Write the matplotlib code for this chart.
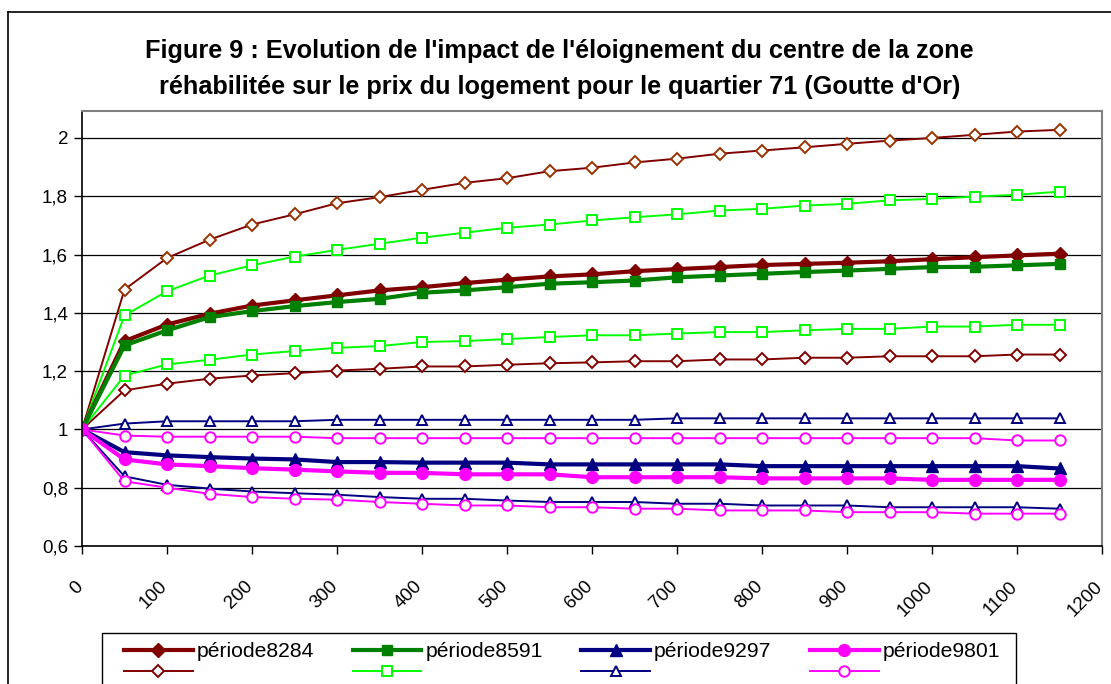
import matplotlib
matplotlib.use("Agg")
import matplotlib.pyplot as plt
from matplotlib.lines import Line2D
from matplotlib.patches import Rectangle
from matplotlib.ticker import FuncFormatter
from matplotlib.transforms import ScaledTranslation

plt.rcParams['font.family'] = ['Liberation Sans', 'DejaVu Sans']

# Distance from the centre of the rehabilitated zone (m)
distance = [0, 50, 100, 150, 200, 250, 300, 350, 400, 450, 500, 550,
            600, 650, 700, 750, 800, 850, 900, 950, 1000, 1050, 1100, 1150]

# Central estimates per period
p8284 = [1.0, 1.303, 1.36, 1.397, 1.425, 1.443, 1.46, 1.477, 1.488, 1.502, 1.514, 1.525,
         1.532, 1.543, 1.55, 1.557, 1.564, 1.568, 1.572, 1.577, 1.584, 1.591, 1.597, 1.603]
p8591 = [1.0, 1.288, 1.34, 1.385, 1.406, 1.423, 1.437, 1.448, 1.469, 1.477, 1.488, 1.5,
         1.505, 1.511, 1.522, 1.528, 1.534, 1.54, 1.545, 1.551, 1.557, 1.558, 1.563, 1.568]
p9297 = [1.0, 0.922, 0.911, 0.905, 0.9, 0.897, 0.888, 0.888, 0.886, 0.886, 0.886, 0.88,
         0.88, 0.88, 0.88, 0.88, 0.874, 0.874, 0.874, 0.874, 0.874, 0.874, 0.874, 0.866]
p9801 = [1.0, 0.897, 0.88, 0.874, 0.867, 0.862, 0.856, 0.851, 0.851, 0.846, 0.846, 0.846,
         0.836, 0.836, 0.836, 0.836, 0.832, 0.832, 0.832, 0.832, 0.827, 0.827, 0.827, 0.827]

# Lower / upper bounds per period
lo8284 = [1.0, 1.134, 1.157, 1.174, 1.185, 1.193, 1.202, 1.208, 1.216, 1.216, 1.222, 1.227,
          1.23, 1.234, 1.234, 1.24, 1.24, 1.246, 1.246, 1.251, 1.251, 1.251, 1.257, 1.257]
hi8284 = [1.0, 1.48, 1.588, 1.651, 1.703, 1.738, 1.776, 1.797, 1.822, 1.846, 1.862, 1.886,
          1.898, 1.916, 1.929, 1.946, 1.957, 1.968, 1.98, 1.991, 2.0, 2.011, 2.022, 2.028]
lo8591 = [1.0, 1.185, 1.223, 1.239, 1.257, 1.269, 1.28, 1.286, 1.3, 1.303, 1.31, 1.317,
          1.323, 1.323, 1.329, 1.334, 1.334, 1.34, 1.345, 1.345, 1.353, 1.353, 1.359, 1.359]
hi8591 = [1.0, 1.391, 1.474, 1.528, 1.563, 1.593, 1.616, 1.637, 1.658, 1.675, 1.692, 1.703,
          1.717, 1.728, 1.738, 1.751, 1.757, 1.768, 1.774, 1.786, 1.791, 1.799, 1.805, 1.816]
hi9297 = [1.0, 1.02, 1.028, 1.028, 1.028, 1.028, 1.033, 1.033, 1.033, 1.033, 1.033, 1.033,
          1.033, 1.033, 1.038, 1.038, 1.038, 1.038, 1.038, 1.038, 1.038, 1.038, 1.038, 1.038]
lo9297 = [1.0, 0.839, 0.81, 0.797, 0.787, 0.781, 0.776, 0.768, 0.762, 0.762, 0.756, 0.751,
          0.751, 0.751, 0.745, 0.745, 0.739, 0.739, 0.739, 0.733, 0.733, 0.733, 0.733, 0.728]
hi9801 = [1.0, 0.979, 0.975, 0.975, 0.975, 0.975, 0.97, 0.97, 0.97, 0.97, 0.97, 0.97,
          0.97, 0.97, 0.97, 0.97, 0.97, 0.97, 0.97, 0.97, 0.97, 0.97, 0.962, 0.962]
lo9801 = [1.0, 0.822, 0.8, 0.779, 0.768, 0.762, 0.759, 0.751, 0.745, 0.739, 0.739, 0.733,
          0.733, 0.728, 0.728, 0.722, 0.722, 0.722, 0.716, 0.716, 0.716, 0.711, 0.711, 0.711]

labels = ['période8284', 'période8591', 'période9297', 'période9801']
x_ticks = list(range(0, 1201, 100))
y_ticks = [0.6, 0.8, 1.0, 1.2, 1.4, 1.6, 1.8, 2.0]

DARKRED = '#800000'
BROWN = '#993300'
GREEN = '#008000'
LIME = '#00FF00'
NAVY = '#000080'
MAGENTA = '#FF00FF'

W, H = 1111, 684
fig = plt.figure(figsize=(W / 100, H / 100), dpi=100)
ax = fig.add_axes([82 / W, 1 - 546 / H, (1102 - 82) / W, (546 - 111) / H])

thin = dict(lw=1.4, ms=7.5, markeredgewidth=1.4, markerfacecolor='white')
thick = dict(lw=3.0, ms=7.5)

h = {}
# thin bound curves
h['lo8284'], = ax.plot(distance, lo8284, color=DARKRED, marker='D', markeredgecolor=DARKRED,
                       **{**thin, 'ms': 6.5})
h['hi8284'], = ax.plot(distance, hi8284, color=DARKRED, marker='D', markeredgecolor=BROWN,
                       **{**thin, 'ms': 6.5})
h['lo8591'], = ax.plot(distance, lo8591, color=LIME, marker='s', markeredgecolor=LIME, **thin)
h['hi8591'], = ax.plot(distance, hi8591, color=LIME, marker='s', markeredgecolor=LIME, **thin)
h['hi9297'], = ax.plot(distance, hi9297, color=NAVY, marker='^', markeredgecolor=NAVY, **thin)
h['lo9297'], = ax.plot(distance, lo9297, color=NAVY, marker='^', markeredgecolor=NAVY, **thin)
h['hi9801'], = ax.plot(distance, hi9801, color=MAGENTA, marker='o', markeredgecolor=MAGENTA, **thin)
h['lo9801'], = ax.plot(distance, lo9801, color=MAGENTA, marker='o', markeredgecolor=MAGENTA, **thin)

# central estimates
h['p8284'], = ax.plot(distance, p8284, color=DARKRED, marker='D', **{**thick, 'ms': 7})
h['p8591'], = ax.plot(distance, p8591, color=GREEN, marker='s', **thick)
h['p9297'], = ax.plot(distance, p9297, color=NAVY, marker='^', **{**thick, 'ms': 8.5})
h['p9801'], = ax.plot(distance, p9801, color=MAGENTA, marker='o', **{**thick, 'ms': 8.5})

ax.set_xlim(0, 1200)
ax.set_ylim(0.6, 2.0926)
ax.set_xticks(x_ticks)
ax.set_yticks(y_ticks)
ax.yaxis.set_major_formatter(FuncFormatter(lambda v, p: f"{v:g}".replace('.', ',')))
ax.set_xticklabels([str(t) for t in x_ticks], rotation=45, ha='right', rotation_mode='anchor')
ax.tick_params(axis='both', direction='out', length=6, width=1, color='black',
               labelsize=13.5, labelcolor='black')
ax.tick_params(axis='x', pad=17)
ax.tick_params(axis='y', pad=4)
shift = ScaledTranslation(-8 / 100, 0, fig.dpi_scale_trans)
for lab in ax.get_xticklabels():
    lab.set_transform(lab.get_transform() + shift)
ax.grid(axis='y', color='black', lw=0.9)
ax.set_axisbelow(True)
for side in ('top', 'right'):
    ax.spines[side].set_color('#808080')
    ax.spines[side].set_linewidth(1.5)
for side in ('left', 'bottom'):
    ax.spines[side].set_color('black')
    ax.spines[side].set_linewidth(1.2)

fig.text(0.5 + 4 / W, 1 - 51 / H,
         "Figure 9 : Evolution de l'impact de l'éloignement du centre de la zone",
         ha='center', va='center', fontsize=18.2, fontweight='bold')
fig.text(0.5 + 4 / W, 1 - 87 / H,
         "réhabilitée sur le prix du logement pour le quartier 71 (Goutte d'Or)",
         ha='center', va='center', fontsize=18.2, fontweight='bold')

# Legend box
fig.add_artist(Rectangle((102 / W, -0.05), (1016 - 102) / W, 1 - 633 / H + 0.05,
                         transform=fig.transFigure, facecolor='white', edgecolor='black',
                         lw=1.0, zorder=2))

# Legend entries laid out row by row (4 columns)
rows = [
    [h['p8284'], h['p8591'], h['p9297'], h['p9801']],
    [h['lo8284'], h['lo8591'], h['hi9297'], h['hi9801']],
    [h['hi8284'], h['hi8591'], h['lo9297'], h['lo9801']],
]
row_labels = [labels, [' '] * 4, [' '] * 4]
handles, leg_labels = [], []
for c in range(4):
    for r in range(3):
        handles.append(rows[r][c])
        leg_labels.append(row_labels[r][c])
leg = fig.legend(handles, leg_labels, ncol=4, loc='upper left',
                 bbox_to_anchor=(124 / W, 1 - 642 / H), frameon=False,
                 fontsize=15.2, handlelength=3.25, handletextpad=0.2,
                 columnspacing=1.82, labelspacing=0.1, borderpad=0, borderaxespad=0)
leg.set_zorder(3)

# Chart-area border
fig.add_artist(Line2D([8 / W, 8 / W], [0, 1 - 12 / H], color='black', lw=1.2,
                      transform=fig.transFigure))
fig.add_artist(Line2D([8 / W, 1], [1 - 12 / H, 1 - 12 / H], color='black', lw=1.2,
                      transform=fig.transFigure))

fig.savefig('out.png', dpi=100, facecolor='white')
